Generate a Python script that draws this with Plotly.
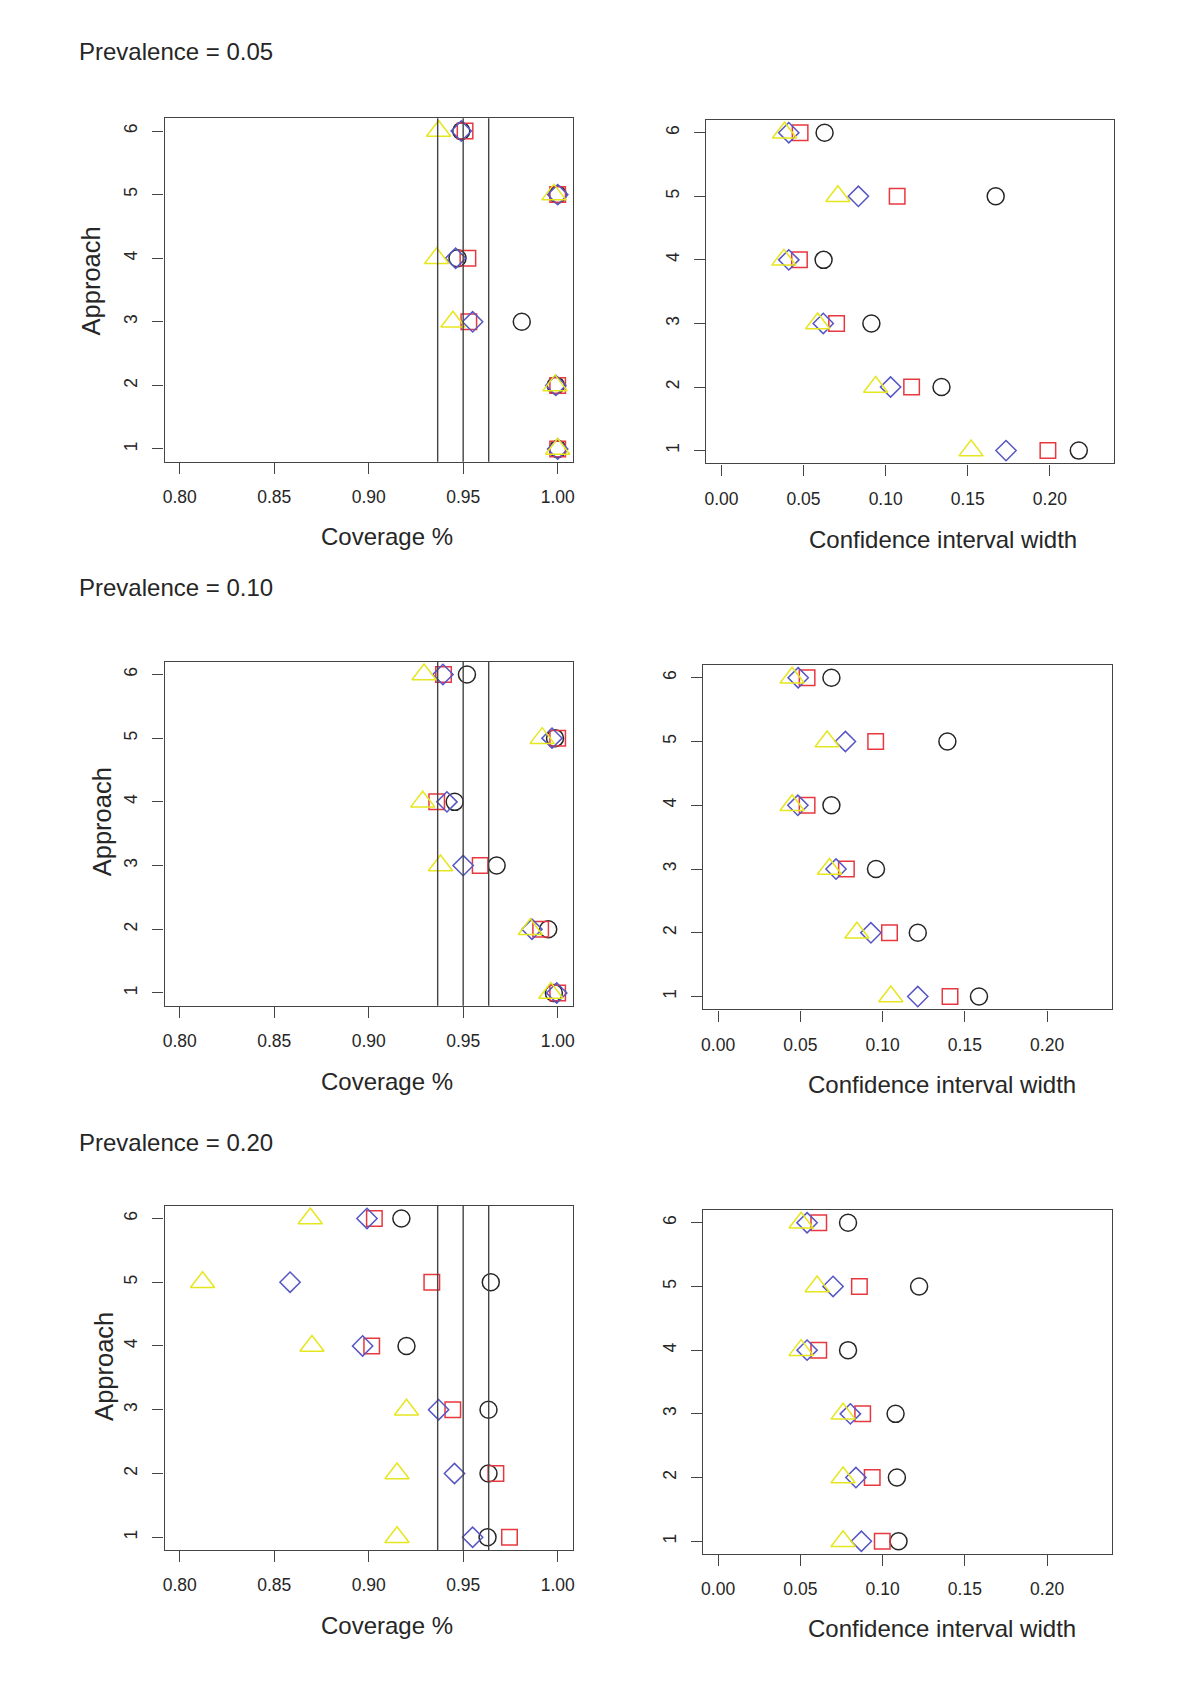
import plotly.graph_objects as go

# ---------------- data ----------------
approach = [1, 2, 3, 4, 5, 6]
prevalences = ["0.05", "0.10", "0.20"]

# Coverage, order: approach 1..6
cov_circle_05 = [1.000, 0.999, 0.981, 0.947, 1.000, 0.949]
cov_square_05 = [1.000, 1.000, 0.953, 0.9525, 1.000, 0.951]
cov_diamond_05 = [1.000, 0.999, 0.955, 0.946, 1.000, 0.949]
cov_triangle_05 = [1.000, 0.9986, 0.9446, 0.936, 0.998, 0.937]

cov_circle_10 = [0.998, 0.995, 0.9677, 0.9455, 0.9986, 0.952]
cov_square_10 = [1.000, 0.991, 0.959, 0.936, 1.000, 0.9396]
cov_diamond_10 = [0.9995, 0.9864, 0.950, 0.9414, 0.997, 0.9393]
cov_triangle_10 = [0.9964, 0.9855, 0.938, 0.9286, 0.9918, 0.9293]

cov_circle_20 = [0.9629, 0.9634, 0.9634, 0.920, 0.9646, 0.9173]
cov_square_20 = [0.9745, 0.9673, 0.9445, 0.9016, 0.9334, 0.903]
cov_diamond_20 = [0.955, 0.9454, 0.937, 0.8968, 0.8584, 0.8991]
cov_triangle_20 = [0.915, 0.915, 0.920, 0.870, 0.8121, 0.8691]

# Confidence interval width
ciw_circle_05 = [0.2176, 0.134, 0.0913, 0.0622, 0.167, 0.0628]
ciw_square_05 = [0.1988, 0.1158, 0.0701, 0.0475, 0.107, 0.0479]
ciw_diamond_05 = [0.1733, 0.103, 0.062, 0.041, 0.0834, 0.041]
ciw_triangle_05 = [0.152, 0.0939, 0.0586, 0.038, 0.0709, 0.0384]

ciw_circle_10 = [0.1586, 0.1214, 0.096, 0.0689, 0.1394, 0.0689]
ciw_square_10 = [0.141, 0.1042, 0.078, 0.0541, 0.0958, 0.0541]
ciw_diamond_10 = [0.1214, 0.0929, 0.0717, 0.0485, 0.0774, 0.0487]
ciw_triangle_10 = [0.105, 0.0844, 0.0677, 0.045, 0.0663, 0.045]

ciw_circle_20 = [0.1097, 0.1087, 0.1079, 0.079, 0.1222, 0.079]
ciw_square_20 = [0.0998, 0.0937, 0.0879, 0.0612, 0.0859, 0.0612]
ciw_diamond_20 = [0.0871, 0.0838, 0.0804, 0.0541, 0.0699, 0.0541]
ciw_triangle_20 = [0.076, 0.076, 0.076, 0.0505, 0.0602, 0.0505]

ref_lines = [0.9365, 0.95, 0.9635]

cov_ticks = [0.80, 0.85, 0.90, 0.95, 1.00]
cov_ticklabels = ["0.80", "0.85", "0.90", "0.95", "1.00"]
ciw_ticks = [0.00, 0.05, 0.10, 0.15, 0.20]
ciw_ticklabels = ["0.00", "0.05", "0.10", "0.15", "0.20"]
y_ticks = [1, 2, 3, 4, 5, 6]
y_ticklabels = ["1", "2", "3", "4", "5", "6"]

# ---------------- style ----------------
PAGE_MARGIN = 8          # default body margin of the html page
W, H = 1200 - 2 * PAGE_MARGIN, 1698 - 2 * PAGE_MARGIN
FONT = "Liberation Sans, Arial, Helvetica, sans-serif"
BOX = "#444444"
TXT = "#262626"
C_CIRCLE = "#262626"
C_SQUARE = "#e8383f"
C_DIAMOND = "#5656c4"
C_TRIANGLE = "#e6e61e"

series_style = [
    ("circle-open", C_CIRCLE, 17),
    ("square-open", C_SQUARE, 15.5),
    ("diamond-open", C_DIAMOND, 15.6),
    ("triangle-up-open", C_TRIANGLE, 21),
]

cov_data = [
    [cov_circle_05, cov_square_05, cov_diamond_05, cov_triangle_05],
    [cov_circle_10, cov_square_10, cov_diamond_10, cov_triangle_10],
    [cov_circle_20, cov_square_20, cov_diamond_20, cov_triangle_20],
]
ciw_data = [
    [ciw_circle_05, ciw_square_05, ciw_diamond_05, ciw_triangle_05],
    [ciw_circle_10, ciw_square_10, ciw_diamond_10, ciw_triangle_10],
    [ciw_circle_20, ciw_square_20, ciw_diamond_20, ciw_triangle_20],
]

# panel boxes in page pixels (left, right, top, bottom)
left_boxes = [(163.1, 572.7, 118.3, 461.7), (163.1, 572.7, 661.7, 1005.7), (163.1, 572.7, 1205.7, 1550.0)]
right_boxes = [(706.7, 1116.0, 120.0, 463.3), (703.3, 1113.3, 665.0, 1009.3), (703.3, 1113.3, 1210.0, 1554.0)]
title_y = [51.7, 587.7, 1142.7]
approach_x = [89.7, 100.6, 102.2]
approach_y = [281.0, 822.0, 1366.0]
cov_title_x = 386.2
cov_title_y = [536.7, 1081.7, 1625.0]
ciw_title_y = [540.0, 1084.3, 1628.3]


def px(x):
    return (x - PAGE_MARGIN) / W


def py(y):
    return 1 - (y - PAGE_MARGIN) / H


def xd(a, b):
    return [px(a), px(b)]


def yd(t, b):
    return [py(b), py(t)]


fig = go.Figure()
layout = dict(
    width=W, height=H, margin=dict(l=0, r=0, t=0, b=0),
    paper_bgcolor="white", plot_bgcolor="white", showlegend=False,
    font=dict(family=FONT, color=TXT),
)
annotations = []
shapes = []

ax_common = dict(
    showline=True, mirror=True, linecolor=BOX, linewidth=1.4,
    ticks="outside", ticklen=11, tickcolor=BOX, tickwidth=1.4,
    showgrid=False, zeroline=False, tickfont=dict(size=17.5, family=FONT, color=TXT),
)

for r in range(3):
    for c in range(2):
        idx = r * 2 + c + 1
        sfx = "" if idx == 1 else str(idx)
        box = left_boxes[r] if c == 0 else right_boxes[r]
        data = cov_data[r] if c == 0 else ciw_data[r]
        for (sym, col, sz), vals in zip(series_style, data):
            fig.add_trace(go.Scatter(
                x=vals, y=approach, mode="markers",
                xaxis="x" + sfx, yaxis="y" + sfx,
                marker=dict(symbol=sym, size=sz, color=col,
                            line=dict(color=col, width=1.5)),
                hoverinfo="skip",
            ))
        if c == 0:
            xr = [0.792, 1.008]
            tv, tt = cov_ticks, cov_ticklabels
        else:
            xr = [-0.0092, 0.2392]
            tv, tt = ciw_ticks, ciw_ticklabels
        layout["xaxis" + sfx] = dict(
            ax_common, domain=xd(box[0], box[1]), range=xr,
            tickvals=tv, ticktext=tt, anchor="y" + sfx, ticklabelstandoff=8,
        )
        layout["yaxis" + sfx] = dict(
            ax_common, domain=yd(box[2], box[3]), range=[0.8, 6.2],
            tickvals=y_ticks, ticktext=y_ticklabels, anchor="x" + sfx,
            tickangle=-90, ticklabelstandoff=8,
        )
        if c == 0:
            for v in ref_lines:
                shapes.append(dict(
                    type="line", xref="x" + sfx, yref="y" + sfx + " domain",
                    x0=v, x1=v, y0=0, y1=1, line=dict(color=BOX, width=1.4),
                ))
            annotations.append(dict(
                text="Coverage %", xref="paper", yref="paper",
                x=px(cov_title_x), y=py(cov_title_y[r]), showarrow=False,
                xanchor="center", yanchor="middle", font=dict(size=24, family=FONT, color=TXT),
            ))
            annotations.append(dict(
                text="Approach", xref="paper", yref="paper",
                x=px(approach_x[r]), y=py(approach_y[r]), showarrow=False,
                textangle=-90, xanchor="center", yanchor="middle",
                font=dict(size=25.5, family=FONT, color=TXT),
            ))
        else:
            annotations.append(dict(
                text="Confidence interval width", xref="paper", yref="paper",
                x=px(944.2 if r == 0 else 942.8), y=py(ciw_title_y[r]), showarrow=False,
                xanchor="center", yanchor="middle", font=dict(size=24, family=FONT, color=TXT),
            ))
    annotations.append(dict(
        text="Prevalence = " + prevalences[r], xref="paper", yref="paper",
        x=px(75), y=py(title_y[r]), showarrow=False,
        xanchor="left", yanchor="middle", font=dict(size=24, family=FONT, color=TXT),
    ))

layout["annotations"] = annotations
layout["shapes"] = shapes
fig.update_layout(**layout)
fig.write_html("out.html")
